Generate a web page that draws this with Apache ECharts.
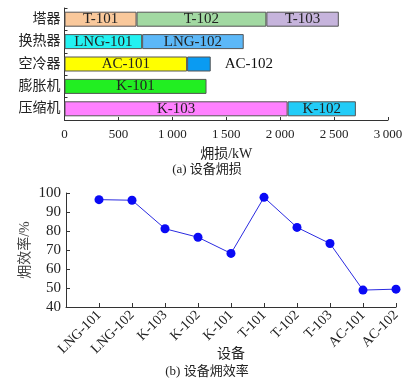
<!DOCTYPE html>
<html><head><meta charset="utf-8">
<script src="https://cdn.jsdelivr.net/npm/echarts@6/dist/echarts.min.js"></script>
<style>html,body{margin:0;padding:0;background:#fff}#c{width:414px;height:383px}</style>
</head><body><div id="c"></div>
<script>
// Top chart: equipment groups (bottom to top on the y-axis)
const groups = ['压缩机', '膨胀机', '空冷器', '换热器', '塔器'];
// segment 1, 2, 3 per group
const seg1Names = ['K-103', 'K-101', 'AC-101', 'LNG-101', 'T-101'];
const seg1Values = [2069, 1317, 1137, 720, 668];
const seg2Names = ['K-102', '', 'AC-102', 'LNG-102', 'T-102'];
const seg2Values = [633, null, 219, 942, 1204];
const seg3Names = ['', '', '', '', 'T-103'];
const seg3Values = [null, null, null, null, 672];
const xTicks = [0, 500, 1000, 1500, 2000, 2500, 3000];

// Bottom chart: exergy efficiency
const devices = ['LNG-101', 'LNG-102', 'K-103', 'K-102', 'K-101', 'T-101', 'T-102', 'T-103', 'AC-101', 'AC-102'];
const efficiency = [96.5, 96.2, 81.2, 76.7, 68.2, 97.7, 81.9, 73.4, 48.9, 49.4];

const seg1Colors = ['#FF80FF', '#22EE22', '#FFFF00', '#22F2F2', '#F9C89B'];
const seg2Colors = ['#22CCF8', null, '#0A9BF2', '#5CB8F8', '#A2D9A2'];
const seg3Colors = [null, null, null, null, '#C6B4DC'];

const FONT = '"Liberation Serif", "Noto Sans CJK SC", serif';

function mk(values, names, colors, outsideName) {
  return values.map((v, i) => {
    if (v == null) return '-';
    const item = { value: v, itemStyle: { color: colors[i] } };
    if (names[i] === outsideName) {
      item.label = { show: true, position: 'right', distance: 14, formatter: names[i], color: '#111' };
    } else {
      item.label = { show: true, position: 'inside', formatter: names[i], color: '#222' };
    }
    return item;
  });
}

const chart = echarts.init(document.getElementById('c'), null, { renderer: 'canvas' });
const barCommon = {
  type: 'bar', stack: 'g', barWidth: 15, xAxisIndex: 0, yAxisIndex: 0,
  itemStyle: { borderColor: '#555', borderWidth: 1 },
  label: { fontFamily: FONT, fontSize: 15 }
};

chart.setOption({
  animation: false,
  textStyle: { fontFamily: FONT },
  grid: [
    { left: 64.5, right: 26, top: 8, height: 112 },
    { left: 66, right: 18, top: 193, height: 114 }
  ],
  xAxis: [
    {
      gridIndex: 0, type: 'value', min: xTicks[0], max: xTicks[xTicks.length - 1], interval: 500,
      axisLine: { show: true, lineStyle: { color: '#333' } },
      axisTick: { show: true, inside: true, length: 3, lineStyle: { color: '#333' } },
      splitLine: { show: false },
      axisLabel: { fontSize: 13, color: '#222', margin: 8, fontFamily: FONT,
        formatter: v => v >= 1000 ? Math.floor(v / 1000) + '\u2009' + String(v % 1000).padStart(3, '0') : String(v) },
      name: '㶲损/kW', nameLocation: 'middle', nameGap: 27,
      nameTextStyle: { fontSize: 14, color: '#222', fontFamily: FONT }
    },
    {
      gridIndex: 1, type: 'category', boundaryGap: false, data: [''].concat(devices),
      axisLine: { lineStyle: { color: '#333' } },
      axisTick: { show: true, inside: true, length: 4, lineStyle: { color: '#333' } },
      axisLabel: { rotate: 45, fontSize: 14, color: '#222', margin: 6, fontFamily: FONT, interval: 0 },
      name: '设备', nameLocation: 'middle', nameGap: 40, nameMoveOverlap: false,
      nameTextStyle: { fontSize: 14, color: '#222', fontFamily: FONT }
    }
  ],
  yAxis: [
    {
      gridIndex: 0, type: 'category', data: groups,
      axisLine: { lineStyle: { color: '#333' } },
      axisTick: { show: true, inside: true, length: 3, lineStyle: { color: '#333' } },
      axisLabel: { fontSize: 14, color: '#222', margin: 4, fontFamily: FONT }
    },
    {
      gridIndex: 1, type: 'value', min: 40, max: 100, interval: 10,
      axisLine: { show: true, lineStyle: { color: '#333' } },
      axisTick: { show: true, inside: true, length: 4, lineStyle: { color: '#333' } },
      splitLine: { show: false },
      axisLabel: { fontSize: 15, color: '#222', margin: 5, fontFamily: FONT },
      name: '㶲效率/%', nameLocation: 'middle', nameGap: 34, nameRotate: 90, nameMoveOverlap: false,
      nameTextStyle: { fontSize: 14, color: '#444', fontFamily: FONT }
    }
  ],
  series: [
    Object.assign({}, barCommon, { data: mk(seg1Values, seg1Names, seg1Colors, null) }),
    Object.assign({}, barCommon, { data: mk(seg2Values, seg2Names, seg2Colors, 'AC-102') }),
    Object.assign({}, barCommon, { data: mk(seg3Values, seg3Names, seg3Colors, null) }),
    {
      type: 'line', xAxisIndex: 1, yAxisIndex: 1,
      data: ['-'].concat(efficiency),
      symbol: 'circle', symbolSize: 9,
      lineStyle: { color: '#2A2AE0', width: 1 },
      itemStyle: { color: '#0A0AF5' }
    }
  ],
  graphic: [
    { type: 'text', left: 'center', top: 163, style: { text: '(a) 设备㶲损', font: '13px ' + FONT, fill: '#222' } },
    { type: 'text', left: 'center', top: 365, style: { text: '(b) 设备㶲效率', font: '13px ' + FONT, fill: '#222' } }
  ]
});
</script></body></html>
